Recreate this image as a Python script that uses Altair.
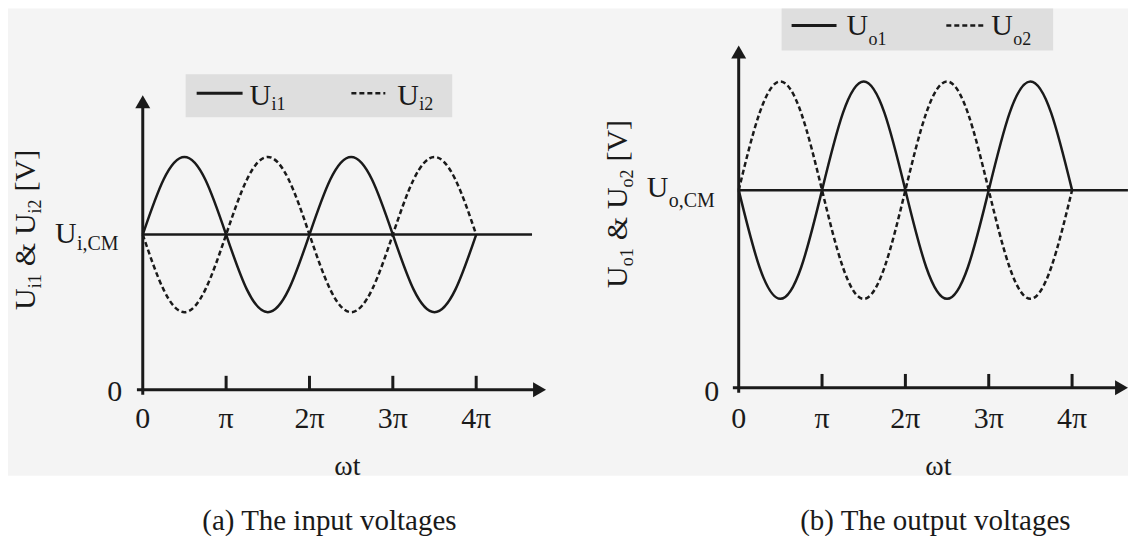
import altair as alt
import pandas as pd

# ---------------- data (ωt in units of π) ----------------
wt = [0, 0.25, 0.5, 0.75, 1, 1.25, 1.5, 1.75, 2, 2.25, 2.5, 2.75, 3, 3.25, 3.5, 3.75, 4]
u_i1 = [2.0, 2.71, 3.0, 2.71, 2.0, 1.29, 1.0, 1.29, 2.0, 2.71, 3.0, 2.71, 2.0, 1.29, 1.0, 1.29, 2.0]
u_i2 = [2.0, 1.29, 1.0, 1.29, 2.0, 2.71, 3.0, 2.71, 2.0, 1.29, 1.0, 1.29, 2.0, 2.71, 3.0, 2.71, 2.0]
u_o1 = [2.0, 1.22, 0.9, 1.22, 2.0, 2.78, 3.1, 2.78, 2.0, 1.22, 0.9, 1.22, 2.0, 2.78, 3.1, 2.78, 2.0]
u_o2 = [2.0, 2.78, 3.1, 2.78, 2.0, 1.22, 0.9, 1.22, 2.0, 2.78, 3.1, 2.78, 2.0, 1.22, 0.9, 1.22, 2.0]
cm_level = [2.0, 2.0]            # U_i,CM and U_o,CM
cm_line_end = [4.67, 4.67]
tick_pos = [0, 1, 2, 3, 4]
tick_labels = ["0", "π", "2π", "3π", "4π"]
x_domain_max = [4.85, 4.671]
y_domain_max = [4.437, 3.465]
x_arrow_tip = [4.838, 4.671]
y_arrow_tip = [3.794, 3.465]
tick_len = [0.18, 0.14]
axis_start_x = [-0.07, -0.07]
axis_start_y = [-0.065, -0.05]
captions = ["(a) The input voltages", "(b) The output voltages"]
x_title = "ωt"
series_sub = [["i1", "i2"], ["o1", "o2"]]
cm_sub = ["i,CM", "o,CM"]

FONT = "Liberation Serif, Times New Roman, serif"
INK = "#1a1a1a"
W = [405, 390]
H = [345, 343]


def one():
    return pd.DataFrame({"k": [0]})


def txt(text, x, y, size, angle=0, align="left", baseline="alphabetic", dx=0, dy=0):
    return alt.Chart(one()).mark_text(
        text=text, font=FONT, fontSize=size, color=INK, angle=angle,
        align=align, baseline=baseline, dx=dx, dy=dy
    ).encode(x=alt.value(x), y=alt.value(y))


def panel(i, c1, c2, lg, ytitle_anchor, cm_lab, zero_lab, tick_dy, xt_pos, cap_x, with_bg):
    xs = alt.Scale(domain=[0, x_domain_max[i]], nice=False, zero=False)
    ys = alt.Scale(domain=[0, y_domain_max[i]], nice=False, zero=False)

    def X(f):
        return alt.X(f, type="quantitative", scale=xs, axis=None)

    def Y(f):
        return alt.Y(f, type="quantitative", scale=ys, axis=None)

    layers = []
    if with_bg:
        layers.append(alt.Chart(one()).mark_rect(color="#f4f4f4").encode(
            x=alt.value(-135), x2=alt.value(987), y=alt.value(-37), y2=alt.value(431)))

    # legend box
    bx0, by0, bx1, by1, ly, s0, s1, d0, d1, u1x, u2x, ub, sb = lg
    layers.append(alt.Chart(one()).mark_rect(color="#dedede").encode(
        x=alt.value(bx0), x2=alt.value(bx1), y=alt.value(by0), y2=alt.value(by1)))
    layers.append(alt.Chart(one()).mark_rule(color=INK, strokeWidth=3).encode(
        x=alt.value(s0), x2=alt.value(s1), y=alt.value(ly)))
    layers.append(alt.Chart(one()).mark_rule(color=INK, strokeWidth=2.5, strokeDash=[5, 3]).encode(
        x=alt.value(d0), x2=alt.value(d1), y=alt.value(ly)))
    layers.append(txt("U", u1x, ub, 30))
    layers.append(txt(series_sub[i][0], u1x + 22, sb, 18))
    layers.append(txt("U", u2x, ub, 30))
    layers.append(txt(series_sub[i][1], u2x + 22, sb, 18))

    # axes
    ax = pd.DataFrame({"x0": [axis_start_x[i]], "x1": [x_arrow_tip[i] - 0.1],
                       "y0": [axis_start_y[i]], "y1": [y_arrow_tip[i] - 0.1],
                       "zero": [0.0]})
    layers.append(alt.Chart(ax).mark_rule(color=INK, strokeWidth=3).encode(
        x=X("x0"), x2="x1", y=Y("zero")))
    layers.append(alt.Chart(ax).mark_rule(color=INK, strokeWidth=3).encode(
        x=X("zero"), y=Y("y0"), y2="y1"))
    tips = pd.DataFrame({"x": [x_arrow_tip[i]], "y": [y_arrow_tip[i]], "zero": [0.0]})
    layers.append(alt.Chart(tips).mark_point(shape="triangle-up", filled=True, size=225,
                                             color=INK, opacity=1, yOffset=6.5).encode(
        x=X("zero"), y=Y("y")))
    layers.append(alt.Chart(tips).mark_point(shape="triangle-right", filled=True, size=225,
                                             color=INK, opacity=1, xOffset=-6.5).encode(
        x=X("x"), y=Y("zero")))
    ticks = pd.DataFrame({"x": tick_pos[1:], "y0": [0.0] * 4, "y1": [tick_len[i]] * 4})
    layers.append(alt.Chart(ticks).mark_rule(color=INK, strokeWidth=3).encode(
        x=X("x"), y=Y("y0"), y2="y1"))

    # CM line
    cmd = pd.DataFrame({"x0": [0.0], "x1": [cm_line_end[i]], "y": [cm_level[i]]})
    layers.append(alt.Chart(cmd).mark_rule(color=INK, strokeWidth=2.5).encode(
        x=X("x0"), x2="x1", y=Y("y")))

    # curves
    d1 = pd.DataFrame({"wt": wt, "u": c1})
    d2 = pd.DataFrame({"wt": wt, "u": c2})
    layers.append(alt.Chart(d2).mark_line(color=INK, strokeWidth=2.5, interpolate="natural",
                                          strokeDash=[5, 3]).encode(x=X("wt"), y=Y("u")))
    layers.append(alt.Chart(d1).mark_line(color=INK, strokeWidth=2.5, interpolate="natural").encode(
        x=X("wt"), y=Y("u")))

    # x tick labels
    tl = pd.DataFrame({"x": tick_pos, "lab": tick_labels, "zero": [0.0] * 5})
    layers.append(alt.Chart(tl).mark_text(font=FONT, fontSize=30, color=INK, align="center",
                                          baseline="alphabetic", dy=tick_dy).encode(
        x=X("x"), y=Y("zero"), text="lab:N"))

    # y labels: 0 and U_CM
    zl = pd.DataFrame({"y": [0.0], "lab": ["0"]})
    layers.append(alt.Chart(zl).mark_text(font=FONT, fontSize=30, color=INK, align="center",
                                          baseline="middle", dy=zero_lab[1]).encode(
        x=alt.value(zero_lab[0]), y=Y("y"), text="lab:N"))
    cl = pd.DataFrame({"y": [cm_level[i]], "u": ["U"], "s": [cm_sub[i]]})
    ux, udy, sx, sdy = cm_lab
    layers.append(alt.Chart(cl).mark_text(font=FONT, fontSize=30, color=INK, align="left",
                                          baseline="alphabetic", dy=udy).encode(
        x=alt.value(ux), y=Y("y"), text="u:N"))
    layers.append(alt.Chart(cl).mark_text(font=FONT, fontSize=20, color=INK, align="left",
                                          baseline="alphabetic", dy=sdy).encode(
        x=alt.value(sx), y=Y("y"), text="s:N"))

    # rotated y title: U_x1 & U_x2 [V]  (pieces placed along the text direction)
    axp, ayp = ytitle_anchor
    subw = 14.0 if i == 0 else 18.0
    u_w, amp_w, sp = 21.7, 23.3, 8.0
    p_sub1 = u_w
    p_amp = p_sub1 + subw + sp
    p_u2 = p_amp + amp_w + sp
    p_sub2 = p_u2 + u_w
    p_v = p_sub2 + subw + sp
    parts = [("U", 30, 0, 0), (series_sub[i][0], 18, p_sub1, 6),
             ("&", 30, p_amp, 0), ("U", 30, p_u2, 0),
             (series_sub[i][1], 18, p_sub2, 6), ("[V]", 30, p_v, 0)]
    for t, sz, dx, dy in parts:
        layers.append(txt(t, axp, ayp, sz, angle=270, dx=dx, dy=dy))

    # x title and caption
    layers.append(txt(x_title, xt_pos[0], xt_pos[1], 28, align="center"))
    layers.append(txt(captions[i], cap_x, 485, 29, align="center"))

    return alt.layer(*layers).properties(width=W[i], height=H[i])


left = panel(
    0, u_i1, u_i2,
    (43, 29, 310, 72, 48, 54, 100, 209, 243, 107, 255, 60, 65),
    (-108, 265), (-88, 8, -66, 15.5), (-28, 2), 38, (205, 430), 187, True)
right = panel(
    1, u_o1, u_o2,
    (43, -37, 315, 5, -20, 53, 98, 208, 247, 108, 253, -10, 0),
    (-112, 243), (-92, 7, -70, 17), (-27, 4), 40, (200, 430), 197, False)

chart = alt.hconcat(left, right, spacing=192, bounds="flush").properties(
    padding=0, background="white"
).configure_view(stroke=None)

chart.save("out.html", embed_options={"renderer": "svg", "actions": False})
